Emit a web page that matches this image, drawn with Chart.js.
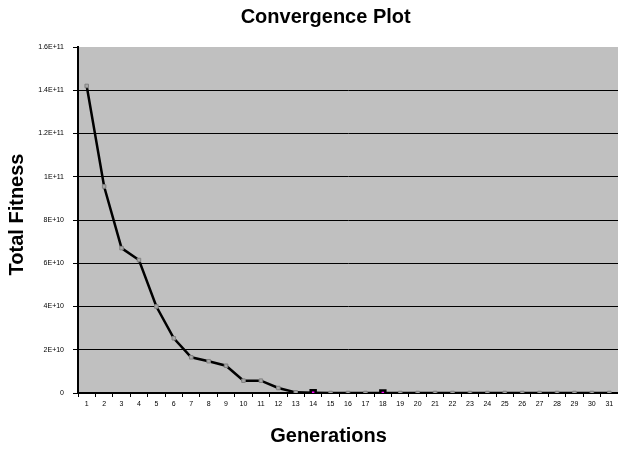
<!DOCTYPE html>
<html>
<head>
<meta charset="utf-8"/>
<title>Convergence Plot</title>
<script src="https://cdn.jsdelivr.net/npm/chart.js@4.4.1/dist/chart.umd.min.js"></script>
<style>
html, body { margin: 0; padding: 0; background: #fff; }
#wrap { width: 618px; height: 452px; }
</style>
</head>
<body>
<div id="wrap"><canvas id="result" width="618" height="452"></canvas></div>
<script>
// generations 1..31
var generations = ['1','2','3','4','5','6','7','8','9','10','11','12','13','14','15','16',
  '17','18','19','20','21','22','23','24','25','26','27','28','29','30','31'];
// total fitness
var fitness = [1.42e11, 9.55e10, 6.7e10, 6.15e10, 4.0e10, 2.53e10, 1.65e10, 1.47e10, 1.26e10,
  5.7e9, 5.7e9, 2.3e9, 3e8, 1e8, 0, 0, 0, 0, 0, 0, 0, 0, 0, 0, 0, 0, 0, 0, 0, 0, 0];
var yTickValues = [0, 2e10, 4e10, 6e10, 8e10, 1e11, 1.2e11, 1.4e11, 1.6e11];
var yTickLabels = ['0', '2E+10', '4E+10', '6E+10', '8E+10', '1E+11', '1.2E+11', '1.4E+11', '1.6E+11'];
var highlighted = ['14', '18'];

var plotBg = {
  id: 'plotBg',
  beforeDraw: function(chart){
    var a = chart.chartArea, c = chart.ctx;
    c.save();
    c.fillStyle = '#c0c0c0';
    c.fillRect(a.left, a.top, a.right - a.left, a.bottom - a.top);
    c.restore();
  }
};

function isHi(g){ return highlighted.indexOf(g) >= 0; }
var ptBg = generations.map(function(g){ return isHi(g) ? '#ff00ff' : '#a8a8a8'; });
var ptBorder = generations.map(function(g){ return isHi(g) ? '#000000' : '#808080'; });
var ptBorderW = generations.map(function(g){ return isHi(g) ? 2.5 : 1; });
var ptRadius = generations.map(function(g){ return isHi(g) ? 3.5 : 2.5; });

Chart.defaults.font.family = '"Liberation Sans", Arial, sans-serif';
Chart.defaults.color = '#000';

new Chart(document.getElementById('result'), {
  type: 'line',
  data: {
    labels: generations,
    datasets: [{
      label: 'Total Fitness',
      data: fitness,
      borderColor: '#000',
      borderWidth: 2.5,
      pointStyle: 'rect',
      pointRadius: ptRadius,
      pointBackgroundColor: ptBg,
      pointBorderColor: ptBorder,
      pointBorderWidth: ptBorderW,
      tension: 0
    }]
  },
  options: {
    responsive: false,
    animation: false,
    layout: { autoPadding: false, padding: { left: 0, right: 0, top: 0, bottom: 0 } },
    plugins: {
      legend: { display: false },
      tooltip: { enabled: false },
      title: {
        display: true,
        // leading spaces nudge the centred title right, like the original
        text: '      Convergence Plot',
        font: { size: 20, weight: 'bold' },
        color: '#000',
        padding: { top: 5, bottom: 18 }
      }
    },
    scales: {
      x: {
        offset: true,
        grid: { display: true, offset: true, drawOnChartArea: false, drawTicks: true,
                tickLength: 4, color: '#000', lineWidth: 1 },
        border: { display: true, color: '#000', width: 2 },
        ticks: { autoSkip: false, maxRotation: 0, font: { size: 7 }, color: '#000', padding: 3 },
        title: { display: true, text: 'Generations       ', font: { size: 20, weight: 'bold' }, color: '#000',
                 padding: { top: 6, bottom: 4 } },
        afterFit: function(s){ s.height = 59; s.paddingLeft = 0; s.paddingRight = 0; }
      },
      y: {
        min: 0,
        max: 1.6e11,
        afterBuildTicks: function(s){ s.ticks = yTickValues.map(function(v){ return { value: v }; }); },
        grid: {
          tickLength: 5, lineWidth: 1,
          color: function(ctx){ return ctx.tick && ctx.tick.value === 1.6e11 ? 'rgba(0,0,0,0)' : '#000'; },
          tickColor: '#000'
        },
        border: { display: true, color: '#000', width: 2 },
        ticks: {
          font: { size: 7 }, color: '#000', padding: 9,
          callback: function(v){ var i = yTickValues.indexOf(v); return i >= 0 ? yTickLabels[i] : ''; }
        },
        title: { display: true, text: '  Total Fitness', font: { size: 20, weight: 'bold' }, color: '#000',
                 padding: { top: 5, bottom: 0 } },
        afterFit: function(s){ s.width = 78; }
      }
    }
  },
  plugins: [plotBg]
});
</script>
</body>
</html>
